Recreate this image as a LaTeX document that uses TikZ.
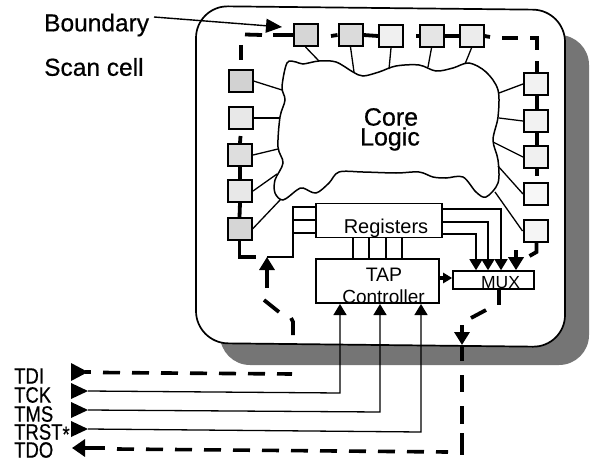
\documentclass[tikz,border=0pt]{standalone}
\usepackage{fontspec}
\usepackage{graphicx}
\setmainfont{Liberation Sans}
\newfontfamily\heavy[FakeBold=0.6]{Liberation Sans}
\usetikzlibrary{arrows.meta}
\tikzset{
  cellbox/.style={draw=black,line width=2pt,fill=#1,minimum width=24pt,minimum height=22pt,inner sep=0pt},
  cellbox/.default=gray!22,
  logicbox/.style={draw=black,line width=1.6pt,fill=white,inner sep=0pt},
  thin link/.style={line width=1.3pt,black},
  wire/.style={line width=1.4pt,black},
  chain/.style={line width=3.8pt,black},
  chaindash/.style={line width=3.6pt,black,dash pattern=on 17pt off 12pt},
  bigarrow/.style={-{Triangle[length=13pt,width=15pt]}},
  midarrow/.style={-{Triangle[length=11pt,width=13pt]}},
  portarrow/.style={line width=1.3pt,black},
  lbl/.style={inner sep=0pt,font=\fontsize{#1}{#1}\selectfont,text=black},
  hlbl/.style={inner sep=0pt,font=\heavy\fontsize{#1}{#1}\selectfont,text=black},
}
\begin{document}
\begin{tikzpicture}[x=1pt,y=-1pt]
\useasboundingbox (0,0) rectangle (596,460);
% shadow and board
\fill[black!54,rounded corners=30pt] (220,35) rectangle (589,365);
\draw[line width=1.7pt,fill=white,rounded corners=32pt] (196,6) -- (565,10) -- (565,347) -- (196,343) -- cycle;
% core
\draw[line width=1.5pt,fill=white] plot[smooth cycle,tension=0.55] coordinates {
 (287,63) (296,62) (303,64) (319,61) (336,62) (353,72) (363,76) (379,72) (396,66) (419,65) (436,71) (453,68) (469,63) (486,72) (498,90) (498,117) (493,140) (498,160) (498,183) (486,197) (476,192) (463,177) (446,178) (433,177) (419,172) (396,173) (363,172) (339,172) (329,183) (316,193) (303,188) (297,190) (283,200) (275,193) (275,180) (283,163) (278,147) (280,117) (285,100) (282,87)};
\node[hlbl=25] (core) at (391,117) {Core};
\node[hlbl=25] (logic) at (390,139) {Logic};
% cells
\node[cellbox=gray!32] (t1) at (305.5,35) {};
\node[cellbox=gray!28] (t2) at (350.5,35) {};
\node[cellbox=gray!12] (t3) at (391,36) {};
\node[cellbox=gray!20] (t4) at (431.5,36) {};
\node[cellbox=gray!15] (t5) at (471.5,36) {};
\node[cellbox=gray!35] (l1) at (240.5,81) {};
\node[cellbox=gray!18] (l2) at (240.5,118) {};
\node[cellbox=gray!26] (l3) at (240,155) {};
\node[cellbox=gray!18] (l4) at (240,191) {};
\node[cellbox=gray!32] (l5) at (239.5,229) {};
\node[cellbox=gray!10] (r1) at (536,84) {};
\node[cellbox=gray!10] (r2) at (536,121) {};
\node[cellbox=gray!12] (r3) at (536,157) {};
\node[cellbox=gray!6] (r4) at (536,194) {};
\node[cellbox=gray!8] (r5) at (535.5,231) {};
% cell-core links
\foreach \c/\a/\p in {l1/east/{(282,90)},l2/east/{(279,118)},l3/east/{(278,149)},l4/east/{(277,174)},l5/east/{(281,199)},
  t1/south/{(319,61)},t2/south/{(354,72)},t3/south/{(389,69)},t4/south/{(428,67)},t5/south/{(465,64)},
  r1/west/{(499,93)},r2/west/{(499,118)},r3/west/{(493,142)},r4/west/{(498,166)},r5/west/{(495,192)}}
  {\draw[thin link] (\c.\a) -- \p;}
% boxes
\node[logicbox,minimum width=126pt,minimum height=34pt] (reg) at (379,220.5) {};
\node[logicbox,minimum width=123pt,minimum height=44pt] (tap) at (377.5,281) {};
\node[logicbox,minimum width=81pt,minimum height=18pt] (mux) at (493.5,280) {};
\node[lbl=20] at (386,228) {Registers};
\node[lbl=19.5] at (384,275) {TAP};
\node[lbl=19] at (383.5,296.5) {Controller};
\node[lbl=17.5] at (500.5,283) {MUX};
% register-tap
\foreach \x in {353,369,386,402} {\draw[line width=1.5pt] (\x,237) -- (\x,259);}
% registers left bus
\coordinate (busa) at (293,257);
\coordinate (busb) at (267,257);
\draw[wire] (reg.west |- 0,207) -| (busa) -- (busb);
\draw[wire] (reg.west |- 0,220) -- (293,220);
\draw[wire] (reg.west |- 0,233) -- (293,233);
% registers to mux
\draw[wire,midarrow] (reg.east |- 0,209) -| (mux.north -| 501,0);
\draw[wire,midarrow] (reg.east |- 0,222) -| (mux.north -| 488,0);
\draw[wire,midarrow] (reg.east |- 0,234) -| (mux.north -| 476,0);
% tap to mux
\draw[chain,-{Triangle[length=9pt,width=10pt]}] (tap.east |- 0,278) -- (mux.west |- 0,278);
% scan chain
\draw[chain] (245,34.5) -- (262,35);
\draw[chain] (273,35) -- (t1.west);
\draw[chain] (241,45) -- (241,60);
\draw[chain] (331,36) -- (t2.west);
\draw[chain] (t2.east) -- (t3.west);
\draw[chain] (416,36) -- (t4.west);
\draw[chain] (t4.east) -- (t5.west);
\draw[chain] (t5.east) -- (490,37);
\draw[chain] (502,38) -- (518,38);
\draw[chain] (530,38) -- (537,38) -- (537,50);
\draw[chain] (r1.north) ++(1,-11) -- ++(0,11);
\draw[chain] (r1.south) ++(1,0) -- ++(0,15);
\draw[chain] (r2.south) ++(1,0) -- ++(0,12);
\draw[chain] (r3.south) ++(1,0) -- ++(0,7);
\draw[chain] (l2.south) ++(0,6) -- (l3.north);
\draw[chain] (l3.south) -- (l4.north);
\draw[chain] (l4.south) -- (l5.north);
\draw[chain] (l5.south) -- ++(0,16) -- ++(16,0);
\draw[chain] (r5.south) ++(1,0) -- ++(0,9) -- ++(-7,4);
\draw[chain,bigarrow] (516,250) -- (mux.north -| 516,0);
\draw[chain,bigarrow] (267,288) -- (busb);
\draw[chain] (264,300) -- (279,312);
\draw[chain] (291,318) -- (293,322) -- (293,335);
\draw[chain] (mux.south -| 499,0) -- (499,305);
\draw[chain] (486,310) -- (471,318);
\coordinate (outa) at (462,345);
\draw[chain,bigarrow] (462,325) -- (outa);
\draw[chain] (outa) -- (462,361);
\draw[chain] (462,375) -- (462,392);
\draw[chain] (462,406) -- (462,424);
\draw[chain] (462,433) -- (462,455);
% ports
\foreach \n/\t/\y in {tdi/TDI/376,tck/TCK/395,tms/TMS/414,trst/TRST\raisebox{-2pt}{*}/433,tdo/TDO/450}
  {\node[inner sep=0pt,anchor=west,font=\heavy\fontsize{18.5}{18.5}\selectfont] (\n) at (14,\y) {\scalebox{1}[1.2]{\t}};}
\coordinate (tdoend) at (72,448);
\fill (71,363) -- (88,372) -- (71,381) -- cycle;
\draw[line width=3.6pt] (85,372) -- (91,372);
\draw[chaindash] (103,372.5) -- (292,374);
\draw[line width=3.6pt,{Triangle[length=13pt,width=17pt]}-] (tdoend) -- (105,448);
\draw[chaindash] (117,449) -- (448,452);
% control inputs
\foreach \yy/\yz/\xx in {391/393/340,410/412/380,429/432/421}
  {\draw[portarrow,midarrow] (88,\yy) -- (\xx,\yz) -- (\xx,304);
   \fill (71,\yy-8) -- (88,\yy) -- (71,\yy+8) -- cycle;}
% label
\node[hlbl=24.5,anchor=west] (bd) at (44,25) {Boundary};
\node[hlbl=24.5,anchor=west] (sc) at (44,67) {Scan cell};
\coordinate (bdtip) at (282,27);
\draw[line width=1.4pt,-{Triangle[length=16pt,width=14pt]}] (154,17) -- (bdtip);
\end{tikzpicture}
\end{document}
